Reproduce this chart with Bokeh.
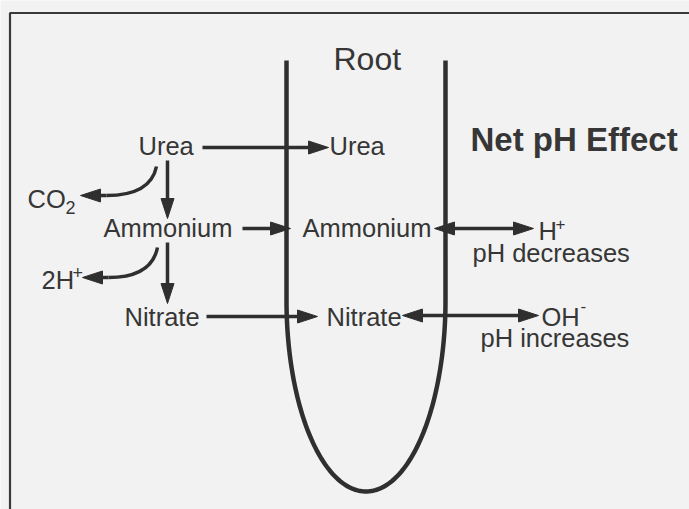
from bokeh.plotting import figure
from bokeh.models import Range1d
from bokeh.core.properties import value
from bokeh.embed import file_html
from bokeh.resources import INLINE
import numpy as np

# ---------------- content ----------------
title_root = "Root"
title_effect = "Net pH Effect"

# soil-side species, root-side species, effect labels
soil_labels = ["Urea", "Ammonium", "Nitrate"]
root_labels = ["Urea", "Ammonium", "Nitrate"]
effect_labels = ["pH decreases", "pH increases"]
byproduct_base = ["CO", "2H"]
byproduct_script = ["2", "+"]
ion_base = ["H", "OH"]
ion_script = ["+", "-"]

# ---------------- layout (pixel coordinates, y = visual centre) ----------------
soil_x = [138, 103, 124]
soil_y = [145, 227, 316.5]
root_x = [329, 302, 326]
root_y = [145, 227, 316.5]
effect_x = [472, 480]
effect_y = [252.5, 337.5]
byp_x = [27, 41]
byp_y = [198, 279]
byp_sx = [65, 72]
byp_sy = [206.5, 272]
ion_x = [538, 541]
ion_y = [230, 316]
ion_sx = [555, 580]
ion_sy = [223.5, 305.5]

# straight arrows: (x0, y0) -> tip (x1, y1); double = head at both ends
arr_x0 = [202, 242, 206, 167, 167, 434, 402]
arr_y0 = [147, 228, 316, 160, 242, 228, 315]
arr_x1 = [328, 290, 317, 167, 167, 533, 538]
arr_y1 = [147, 228, 316, 218, 303, 228, 315]
arr_double = [False, False, False, False, False, True, True]

# curved arrows: start, control, tip
cur_x0 = [156, 157]
cur_y0 = [166, 247]
cur_cx = [150, 151]
cur_cy = [195, 277]
cur_tx = [80, 82]
cur_ty = [195, 277]

# root outline
root_left, root_right = 286, 445
root_top, root_bend, root_bottom = 60, 300, 491

BG = "#f2f2f2"
INK = "#2f2f2f"
TXT = "#363636"
FONT = value("Liberation Sans")
HEAD_L, HEAD_W = 20, 13

p = figure(width=689, height=509, output_backend="svg", toolbar_location=None,
           x_range=Range1d(0, 689), y_range=Range1d(509, 0),
           x_axis_type=None, y_axis_type=None, min_border=0,
           background_fill_color=BG, border_fill_color=BG, outline_line_color=None)
p.grid.visible = False

# frame border (top and left)
p.line(x=[9.5, 9.5, 689], y=[509, 12.5, 12.5], line_color="#3a3a3a", line_width=2.2)

# root U shape
t = np.linspace(np.pi, 2 * np.pi, 120)
cx = (root_left + root_right) / 2
a = (root_right - root_left) / 2
b = root_bottom - root_bend
ux = np.concatenate([[root_left], cx + a * np.cos(t), [root_right]])
uy = np.concatenate([[root_top], root_bend - b * np.sin(t), [root_top]])
p.line(x=ux, y=uy, line_color=INK, line_width=4.5, line_join="round")


def head(tx, ty, dx, dy):
    n = np.hypot(dx, dy)
    dx, dy = dx / n, dy / n
    bx, by = tx - HEAD_L * dx, ty - HEAD_L * dy
    px, py = -dy, dx
    return ([tx, bx + px * HEAD_W / 2, bx - px * HEAD_W / 2],
            [ty, by + py * HEAD_W / 2, by - py * HEAD_W / 2], bx, by)


hx, hy = [], []
sx0, sy0, sx1, sy1 = [], [], [], []
for x0, y0, x1, y1, dbl in zip(arr_x0, arr_y0, arr_x1, arr_y1, arr_double):
    xs, ys, bx1, by1 = head(x1, y1, x1 - x0, y1 - y0)
    hx.append(xs); hy.append(ys)
    bx0, by0 = x0, y0
    if dbl:
        xs, ys, bx0, by0 = head(x0, y0, x0 - x1, y0 - y1)
        hx.append(xs); hy.append(ys)
    sx0.append(bx0); sy0.append(by0); sx1.append(bx1); sy1.append(by1)

qx0, qy0, qx1, qy1, qcx, qcy = [], [], [], [], [], []
for x0, y0, ccx, ccy, tx, ty in zip(cur_x0, cur_y0, cur_cx, cur_cy, cur_tx, cur_ty):
    ex, ey = tx + HEAD_L + 6, ty
    xs, ys, _, _ = head(tx, ty, tx - ex, 0)
    hx.append(xs); hy.append(ys)
    qx0.append(x0); qy0.append(y0); qx1.append(ex); qy1.append(ey)
    qcx.append(ccx); qcy.append(ccy)
    sx0.append(ex); sy0.append(ey); sx1.append(tx + HEAD_L); sy1.append(ty)

p.segment(x0=sx0, y0=sy0, x1=sx1, y1=sy1, line_color=INK, line_width=3.5)
p.quadratic(x0=qx0, y0=qy0, x1=qx1, y1=qy1, cx=qcx, cy=qcy,
            line_color=INK, line_width=3.5)
p.patches(xs=hx, ys=hy, fill_color=INK, line_color=INK, line_width=1)

common = dict(text_font=FONT, text_color=TXT, text_baseline="middle", text_align="left")
p.text(x=[333], y=[58.5], text=[title_root], text_font_size="32px", **common)
p.text(x=[470], y=[138.5], text=[title_effect], text_font_size="33px",
       text_font_style="bold", **common)
p.text(x=soil_x, y=soil_y, text=soil_labels, text_font_size="25.5px", **common)
p.text(x=root_x, y=root_y, text=root_labels, text_font_size="25.5px", **common)
p.text(x=effect_x, y=effect_y, text=effect_labels, text_font_size="25.5px", **common)
p.text(x=byp_x, y=byp_y, text=byproduct_base, text_font_size="25.5px", **common)
p.text(x=byp_sx, y=byp_sy, text=byproduct_script, text_font_size="18px", **common)
p.text(x=ion_x, y=ion_y, text=ion_base, text_font_size="25.5px", **common)
p.text(x=ion_sx, y=ion_sy, text=ion_script, text_font_size="17px", **common)

open("out.html", "w").write(file_html(p, INLINE))
